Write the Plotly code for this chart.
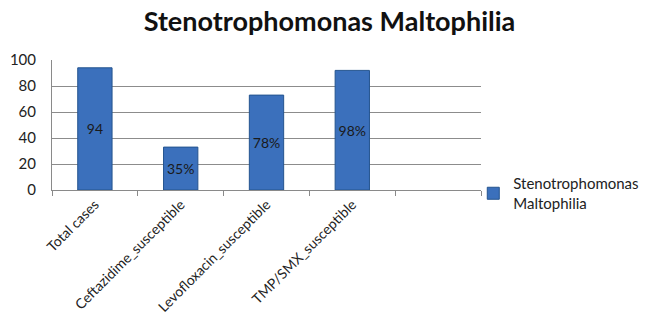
import plotly.graph_objects as go

# Chart data
categories = ["Total cases", "Ceftazidime_susceptible", "Levofloxacin_susceptible", "TMP/SMX_susceptible"]
counts = [94, 33, 73, 92]
labels = ["94", "35%", "78%", "98%"]
series_name = "Stenotrophomonas<br>Maltophilia"
title_text = "Stenotrophomonas Maltophilia"
y_ticks = [0, 20, 40, 60, 80, 100]

# an extra empty slot on the category axis
x_cats = categories + [" "]
y_vals = counts + [None]
txt = labels + [""]

FONT = "Lato, Open Sans, sans-serif"

fig = go.Figure()
fig.add_trace(go.Bar(
    x=x_cats, y=y_vals, text=txt, name=series_name,
    textposition="inside", insidetextanchor="middle", textangle=0,
    textfont=dict(family=FONT, size=14, color="#1a1a1a"),
    marker=dict(color="#3b70bc", line=dict(color="#24548f", width=1)),
    width=0.4, showlegend=True,
))

fig.update_layout(
    width=659, height=326,
    margin=dict(l=52, r=178, t=60, b=136),
    paper_bgcolor="white", plot_bgcolor="white",
    title=dict(text="<b>%s</b>" % title_text, x=0.5, xanchor="center", xref="container",
               y=0.935, yanchor="middle",
               font=dict(family=FONT, size=27, color="#111111")),
    font=dict(family=FONT, color="#222222"),
    legend=dict(x=0.982, y=0.175, xanchor="left", yanchor="top", itemwidth=30,
                font=dict(size=15, color="#222222"), bgcolor="rgba(0,0,0,0)"),
    xaxis=dict(type="category", categoryorder="array", categoryarray=x_cats,
               tickangle=-45, tickfont=dict(size=14, color="#222222"), automargin=False,
               ticks="outside", tickson="boundaries", ticklen=5, tickcolor="#8a8a8a",
               showline=True, linecolor="#8a8a8a", linewidth=1, showgrid=False),
    yaxis=dict(range=[0, 100], tickvals=y_ticks, tickfont=dict(size=15, color="#222222"),
               showgrid=True, gridcolor="#8c8c8c", gridwidth=1, automargin=False,
               showline=True, linecolor="#8a8a8a", linewidth=1, zeroline=False,
               ticks="", ticklen=0, ticklabelstandoff=12),
    bargap=0.6,
)

fig.write_html("out.html")
